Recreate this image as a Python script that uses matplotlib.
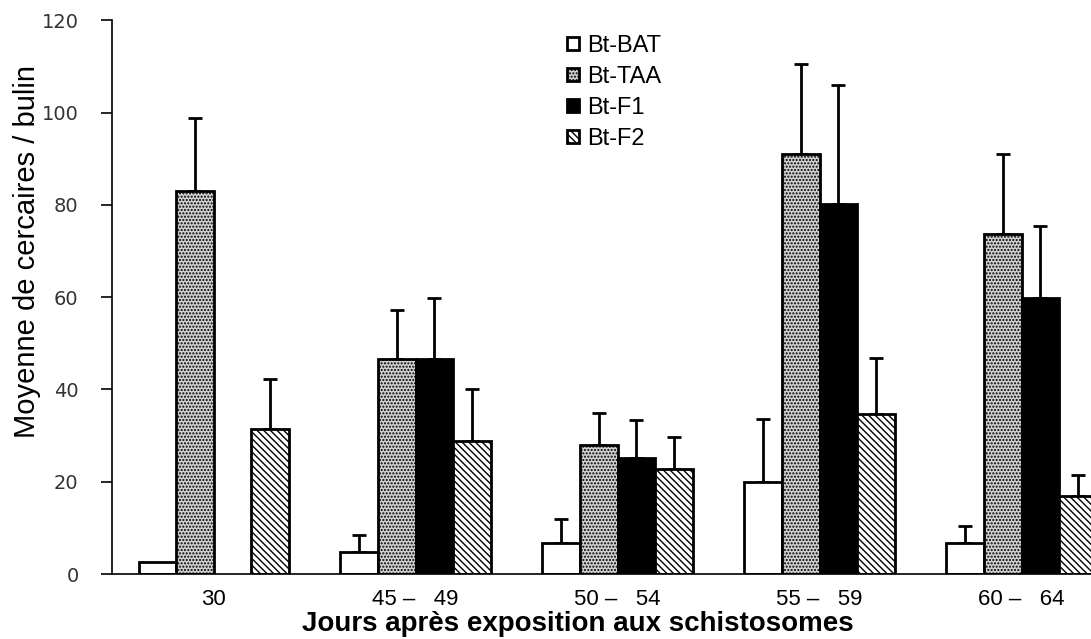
import matplotlib

matplotlib.use("Agg")

import matplotlib.pyplot as plt
import numpy as np

# values
groups = ["30", "45 –   49", "50 –   54", "55 –   59", "60 –   64"]
series = ["Bt-BAT", "Bt-TAA", "Bt-F1", "Bt-F2"]
bat = [2.5, 4.8, 6.8, 20.0, 6.8]
bat_err = [0.0, 3.6, 5.2, 13.6, 3.6]
taa = [83.0, 46.5, 27.9, 91.0, 73.7]
taa_err = [15.8, 10.8, 6.9, 19.6, 17.4]
f1 = [np.nan, 46.5, 25.2, 80.3, 59.8]
f1_err = [np.nan, 13.4, 8.1, 25.6, 15.6]
f2 = [31.5, 28.8, 22.8, 34.7, 16.8]
f2_err = [10.7, 11.2, 6.9, 12.2, 4.6]

sans = "Liberation Sans"
plt.rcParams["hatch.linewidth"] = 1.0

fig = plt.figure(figsize=(10.91, 6.39), dpi=100)
ax = fig.add_axes([0.1027, 0.1017, 0.8973, 0.8665])

x = np.arange(len(groups))
width = 0.186
styles = [
    dict(facecolor="white", hatch=None),
    dict(facecolor="#d0d0d0", hatch="....."),
    dict(facecolor="black", hatch=None),
    dict(facecolor="white", hatch="\\\\\\\\\\"),
]
values = [bat, taa, f1, f2]
errors = [bat_err, taa_err, f1_err, f2_err]

for i, (name, vals, errs, st) in enumerate(zip(series, values, errors, styles)):
    pos = x + (i - 1.5) * width
    ax.bar(pos, vals, width, color=st["facecolor"], hatch=st["hatch"],
           edgecolor="black", linewidth=2.0, label=name, zorder=2)
    errs = np.array(errs, dtype=float)
    show = errs > 0
    ax.errorbar(pos[show], np.array(vals)[show], yerr=[np.zeros(show.sum()), errs[show]],
                fmt="none", ecolor="black", elinewidth=2.0, capsize=5, capthick=2.0, zorder=1)

ax.set_xlim(-0.503, 4.344)
ax.set_ylim(0, 120)
ax.set_yticks(np.arange(0, 121, 20))
ax.set_xticks(x)
ax.set_xticklabels(groups, family=sans, fontsize=16)
ax.tick_params(axis="x", length=0, pad=11)
ax.tick_params(axis="y", direction="out", length=8, width=1.2, labelsize=14,
               labelcolor="#333333", pad=16)
for lbl in ax.get_yticklabels():
    lbl.set_family("DejaVu Sans")

for side in ["top", "right"]:
    ax.spines[side].set_visible(False)
for side in ["left", "bottom"]:
    ax.spines[side].set_linewidth(1.2)

ax.set_ylabel("Moyenne de cercaires / bulin", family=sans, fontsize=21)
ax.yaxis.set_label_coords(-0.073, 0.583)
ax.set_xlabel("Jours après exposition aux schistosomes", family=sans,
              fontsize=20, fontweight="bold")
ax.xaxis.set_label_coords(0.476, -0.067)

ax.legend(loc="upper left", bbox_to_anchor=(0.443, 1.012), frameon=False,
          handlelength=0.5, handleheight=0.5, labelspacing=0.38,
          handletextpad=0.35, prop={"family": sans, "size": 17})

fig.savefig("out.png", dpi=100)
